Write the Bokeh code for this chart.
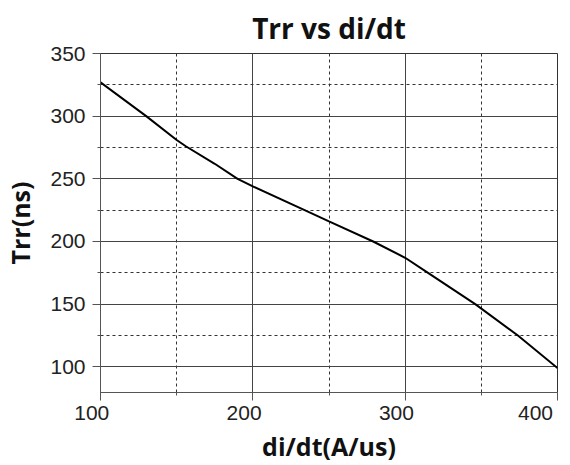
from bokeh.plotting import figure
from bokeh.models import Range1d, SingleIntervalTicker
from bokeh.embed import file_html
from bokeh.resources import INLINE

# data
di_dt = [100, 130, 150, 156, 175, 190, 200, 234, 250, 279, 300, 315, 346, 374, 400]
trr_ns = [327, 300, 281, 276, 262, 250, 244, 225, 216, 200, 187, 175, 150, 125, 99]

x_ticks = [100, 200, 300, 400]
x_tick_labels = ["100", "200", "300", "400"]
y_ticks_interval = 50

title_text = "Trr vs di/dt"
x_title = "di/dt(A/us)"
y_title = "Trr(ns)"

X0, X1 = 100, 400
Y0, Y1 = 79.5, 350

NBSP = "\u00a0"

p = figure(width=570, height=465, output_backend="svg", toolbar_location=None,
           x_range=Range1d(X0, X1), y_range=Range1d(Y0, Y1),
           min_border_left=93, min_border_right=13, min_border_top=51, min_border_bottom=73,
           title=title_text)

p.title.text_font = "Open Sans"
p.title.text_font_style = "bold"
p.title.text_font_size = "28px"
p.title.align = "center"
p.title.text_color = "#111111"
p.title.standoff = 13
p.title.offset = -3

p.line(di_dt, trr_ns, line_color="black", line_width=2)

for ax in (p.xaxis, p.yaxis):
    ax.major_label_text_font = "Liberation Sans"
    ax.major_label_text_font_size = "21px"
    ax.major_label_text_color = "#222222"
    ax.axis_label_text_font = "Open Sans"
    ax.axis_label_text_font_style = "bold"
    ax.axis_label_text_font_size = "25px"
    ax.axis_label_text_color = "#111111"
    ax.axis_line_color = "#555555"
    ax.major_tick_line_color = "#555555"
    ax.minor_tick_line_color = "#555555"
    ax.major_tick_out = 8
    ax.major_tick_in = 0
    ax.minor_tick_out = 3
    ax.minor_tick_in = 0

p.xaxis.ticker = SingleIntervalTicker(interval=x_ticks[1] - x_ticks[0], num_minor_ticks=2)
p.yaxis.ticker = SingleIntervalTicker(interval=y_ticks_interval, num_minor_ticks=2)
# trailing no-break spaces nudge the centred labels left of their ticks, as in the reference
p.xaxis.major_label_overrides = {t: lab + NBSP * 3 for t, lab in zip(x_ticks, x_tick_labels)}

p.xaxis.axis_label = x_title
p.yaxis.axis_label = y_title
p.xaxis.major_label_standoff = 0
p.yaxis.major_label_standoff = 7
p.xaxis.axis_label_standoff = 2
p.yaxis.axis_label_standoff = 10

for g in (p.xgrid, p.ygrid):
    g.grid_line_color = "#444444"
    g.grid_line_width = 1
    g.grid_line_alpha = 1.0
    g.minor_grid_line_color = "#333333"
    g.minor_grid_line_dash = "3 3"
    g.minor_grid_line_width = 1

p.outline_line_color = "#333333"
p.outline_line_width = 1
p.background_fill_color = "white"
p.border_fill_color = "white"

open("out.html", "w").write(file_html(p, INLINE))
